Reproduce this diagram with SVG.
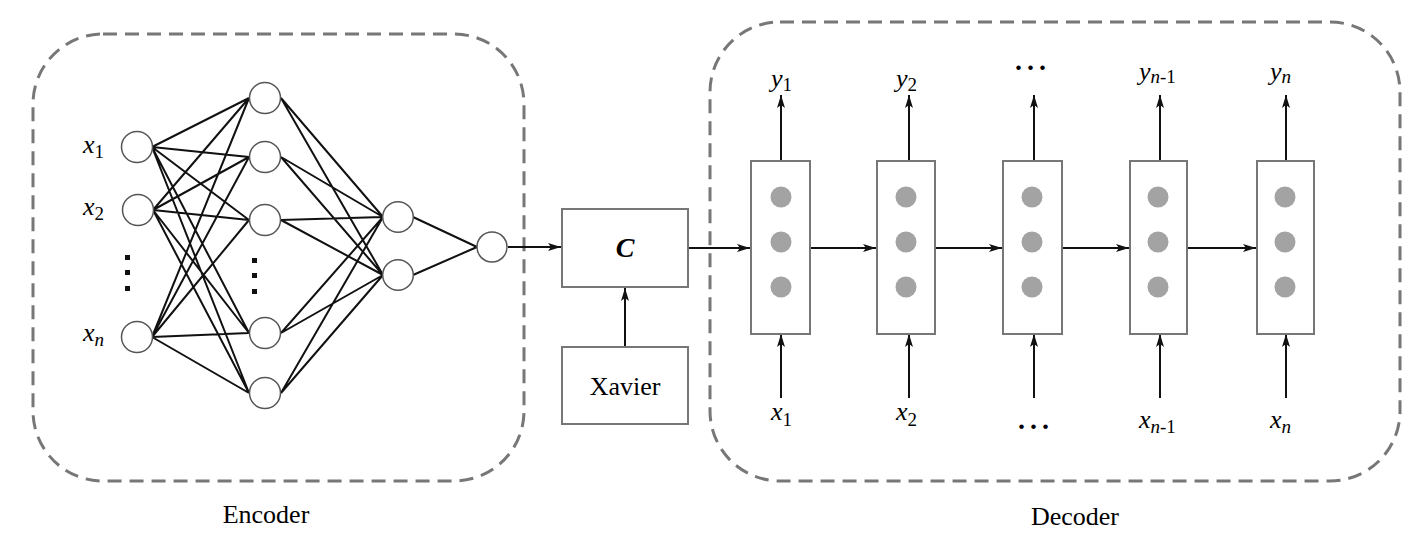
<svg xmlns="http://www.w3.org/2000/svg" width="1417" height="542" viewBox="0 0 1417 542" font-family="Liberation Serif, Times New Roman, serif">
<style>
.grp{fill:none;stroke:#777;stroke-width:3;stroke-dasharray:14 8}
.nd{fill:#fff;stroke:#555;stroke-width:1.5}
.ln{stroke:#111;stroke-width:2;fill:none}
.ar{stroke:#111;stroke-width:2;fill:none;marker-end:url(#ah)}
.box{fill:#fff;stroke:#777;stroke-width:2}
.dot{fill:#a3a3a3}
.it{font-style:italic}
.sub{font-size:19px;font-style:normal}
.subi{font-size:19px;font-style:italic}
</style>
<defs>
<marker id="ah" markerWidth="14" markerHeight="10" refX="13" refY="4" orient="auto" markerUnits="userSpaceOnUse">
<path d="M0,0 L13,4 L0,8 L3,4 z" fill="#111"/>
</marker>
</defs>
<rect class="grp" x="33" y="34" width="491" height="447" rx="70" ry="70"/>
<rect class="grp" x="710" y="22" width="690" height="459" rx="70" ry="70"/>
<g id="connectors">
<path class="ln" d="M152,147 L249,98 M152,147 L249,157 M152,147 L249,220 M152,147 L249,333 M152,147 L249,393
M153,210 L249,98 M153,210 L249,157 M153,210 L249,220 M153,210 L249,333 M153,210 L249,393
M152,337 L249,98 M152,337 L249,157 M152,337 L249,220 M152,337 L249,333 M152,337 L249,393
M281,98 L383,217 M281,98 L383,275 M281,157 L383,217 M281,157 L383,275 M281,220 L383,217 M281,220 L383,275
M281,333 L383,217 M281,333 L383,275 M281,393 L383,217 M281,393 L383,275
M413,217 L477,247 M413,275 L477,247"/>
<line class="ar" x1="508" y1="247" x2="561" y2="247"/>
<line class="ar" x1="625" y1="347" x2="625" y2="288"/>
<line class="ar" x1="688" y1="248" x2="750" y2="248"/>
<line class="ar" x1="810" y1="248" x2="876" y2="248"/>
<line class="ar" x1="936" y1="248" x2="1002" y2="248"/>
<line class="ar" x1="1062" y1="248" x2="1129" y2="248"/>
<line class="ar" x1="1188" y1="248" x2="1256" y2="248"/>
<line class="ar" x1="781" y1="161" x2="781" y2="95"/>
<line class="ar" x1="909" y1="161" x2="909" y2="95"/>
<line class="ar" x1="1034" y1="161" x2="1034" y2="95"/>
<line class="ar" x1="1160" y1="161" x2="1160" y2="95"/>
<line class="ar" x1="1286" y1="161" x2="1286" y2="95"/>
<line class="ar" x1="781" y1="398" x2="781" y2="334"/>
<line class="ar" x1="909" y1="398" x2="909" y2="334"/>
<line class="ar" x1="1034" y1="398" x2="1034" y2="334"/>
<line class="ar" x1="1160" y1="398" x2="1160" y2="334"/>
<line class="ar" x1="1286" y1="398" x2="1286" y2="334"/>
</g>
<g id="input-layer">
<circle class="nd" cx="137" cy="147" r="15.5"/>
<circle class="nd" cx="138" cy="210" r="15.5"/>
<circle class="nd" cx="137" cy="337" r="15.5"/>
<rect x="125" y="255" width="5" height="5" fill="#111"/>
<rect x="125" y="270" width="5" height="5" fill="#111"/>
<rect x="125" y="286" width="5" height="5" fill="#111"/>
<text class="it" x="83" y="153" font-size="26">x<tspan class="sub" dy="5">1</tspan></text>
<text class="it" x="83" y="215" font-size="26">x<tspan class="sub" dy="5">2</tspan></text>
<text class="it" x="83" y="341" font-size="26">x<tspan class="subi" dy="5">n</tspan></text>
</g>
<g id="hidden-layer-1">
<circle class="nd" cx="265" cy="98" r="15.5"/>
<circle class="nd" cx="265" cy="157" r="15.5"/>
<circle class="nd" cx="265" cy="220" r="15.5"/>
<circle class="nd" cx="265" cy="333" r="15.5"/>
<circle class="nd" cx="265" cy="393" r="15.5"/>
<rect x="252" y="258" width="5" height="5" fill="#111"/>
<rect x="252" y="273" width="5" height="5" fill="#111"/>
<rect x="252" y="289" width="5" height="5" fill="#111"/>
</g>
<g id="hidden-layer-2">
<circle class="nd" cx="398" cy="217" r="15.3"/>
<circle class="nd" cx="398" cy="275" r="15.3"/>
</g>
<g id="encoder-output">
<circle class="nd" cx="492" cy="247" r="15"/>
</g>
<g id="context-C">
<rect class="box" x="562" y="209" width="126" height="78"/>
<text class="it" x="625" y="257" font-size="28" font-weight="bold" text-anchor="middle">C</text>
</g>
<g id="xavier">
<rect class="box" x="562" y="347" width="126" height="77"/>
<text x="625" y="395" font-size="26" text-anchor="middle">Xavier</text>
</g>
<g id="cell-1">
<rect class="box" x="751" y="161" width="59" height="173"/>
<circle class="dot" cx="781" cy="197" r="10.5"/><circle class="dot" cx="781" cy="242" r="10.5"/><circle class="dot" cx="781" cy="287" r="10.5"/>
<text class="it" x="771" y="87" font-size="26">y<tspan class="sub" dy="4">1</tspan></text>
<text class="it" x="771" y="420" font-size="26">x<tspan class="sub" dy="6">1</tspan></text>
</g>
<g id="cell-2">
<rect class="box" x="877" y="161" width="58" height="173"/>
<circle class="dot" cx="906" cy="197" r="10.5"/><circle class="dot" cx="906" cy="242" r="10.5"/><circle class="dot" cx="906" cy="287" r="10.5"/>
<text class="it" x="896" y="87" font-size="26">y<tspan class="sub" dy="4">2</tspan></text>
<text class="it" x="896" y="420" font-size="26">x<tspan class="sub" dy="6">2</tspan></text>
</g>
<g id="cell-3">
<rect class="box" x="1003" y="161" width="59" height="173"/>
<circle class="dot" cx="1032" cy="197" r="10.5"/><circle class="dot" cx="1032" cy="242" r="10.5"/><circle class="dot" cx="1032" cy="287" r="10.5"/>
<text x="1015" y="70" font-size="28" font-weight="bold" letter-spacing="5">...</text>
<text x="1018" y="429" font-size="28" font-weight="bold" letter-spacing="5">...</text>
</g>
<g id="cell-4">
<rect class="box" x="1130" y="161" width="57" height="173"/>
<circle class="dot" cx="1158" cy="197" r="10.5"/><circle class="dot" cx="1158" cy="242" r="10.5"/><circle class="dot" cx="1158" cy="287" r="10.5"/>
<text class="it" x="1139" y="80" font-size="26">y<tspan class="subi" dy="3">n</tspan><tspan class="sub">-1</tspan></text>
<text class="it" x="1139" y="428" font-size="26">x<tspan class="subi" dy="5">n</tspan><tspan class="sub">-1</tspan></text>
</g>
<g id="cell-5">
<rect class="box" x="1257" y="161" width="57" height="173"/>
<circle class="dot" cx="1285" cy="197" r="10.5"/><circle class="dot" cx="1285" cy="242" r="10.5"/><circle class="dot" cx="1285" cy="287" r="10.5"/>
<text class="it" x="1270" y="80" font-size="26">y<tspan class="subi" dy="3">n</tspan></text>
<text class="it" x="1270" y="428" font-size="26">x<tspan class="subi" dy="5">n</tspan></text>
</g>
<text x="266" y="523" font-size="26" text-anchor="middle">Encoder</text>
<text x="1075" y="525" font-size="26" text-anchor="middle">Decoder</text>
</svg>
